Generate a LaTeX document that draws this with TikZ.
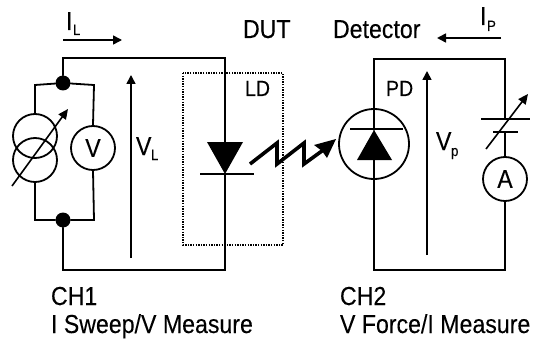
\documentclass[tikz,border=0pt]{standalone}
\usepackage{fontspec}
\setmainfont[FakeStretch=0.89,FakeBold=0.15]{Liberation Sans}
\usetikzlibrary{arrows.meta}
\newcommand{\bigtxt}{\fontsize{26}{26}\selectfont}
\newcommand{\midtxt}{\fontsize{22}{22}\selectfont}
\newcommand{\subtxt}{\fontsize{15}{15}\selectfont}
\tikzset{
  x=1pt,y=-1pt,
  wire/.style={line width=1.8pt,line cap=round,line join=miter},
  arrowline/.style={line width=1.6pt,-{Triangle[length=9pt,width=9pt]}},
  meter/.style={draw,circle,line width=1.8pt,minimum size=44pt,inner sep=0pt,fill=none},
  source/.style={draw,circle,line width=1.8pt,minimum size=44pt,inner sep=0pt},
  dotnode/.style={circle,fill=black,minimum size=15pt,inner sep=0pt},
  lbl/.style={anchor=base west,inner sep=0pt,outer sep=0pt},
  ldbox/.style={line width=1.5pt,dash pattern=on 1.4pt off 1.2pt},
  plate/.style={line width=1.8pt}
}
\begin{document}
\begin{tikzpicture}
\useasboundingbox (0,0) rectangle (534,339);
% nodes
\node[dotnode] (jt) at (63,83) {};
\node[dotnode] (jb) at (63,220) {};
\node[source] (s1) at (35,136) {};
\node[source] (s2) at (35,160) {};
\node[meter] (vm) at (93,148) {\bigtxt V};
\node[meter] (am) at (505,179) {\bigtxt A};
\node[draw,circle,line width=1.8pt,minimum size=70pt,inner sep=0pt] (pd) at (374,144) {};
% corner coordinates
\coordinate (tl) at (63,58); \coordinate (tr) at (225,58);
\coordinate (bl) at (63,270); \coordinate (br) at (225,270);
\coordinate (ptl) at (374,59); \coordinate (ptr) at (505,59);
\coordinate (pbl) at (374,270); \coordinate (pbr) at (505,270);
\coordinate (lla) at (225,143); \coordinate (llk) at (225,174);
\coordinate (bat1) at (505,119); \coordinate (bat2) at (505,132);
\coordinate (pda) at (374,130); \coordinate (pdk) at (374,160);
% LD box
\draw[ldbox] (183,73) rectangle (283,245);
% left loop
\draw[wire] (jt) -- (tl) -- (tr) -- (lla);
\draw[wire] (llk) -- (br) -- (bl) -- (jb);
\draw[wire] (s1.north) -- (35,85) -- (jt) -- (94,85) -- (vm.north);
\draw[wire] (s2.south) -- (35,220) -- (jb) -- (94,220) -- (vm.south);
% right loop
\draw[wire] (pda) -- (ptl) -- (ptr) -- (bat1);
\draw[wire] (pdk) -- (pbl) -- (pbr) -- (am.south);
\draw[wire] (bat2) -- (am.north);
% variable arrows
\draw[line width=1.6pt,-{Triangle[length=10pt,width=9pt]}] (12,186) -- (68,109);
\draw[line width=1.6pt,-{Triangle[length=10pt,width=9pt]}] (486,149) -- (528,94);
% battery plates
\draw[plate] (481,119) -- (530,119);
\draw[plate] (493,132) -- (518,132);
% laser diode
\fill (207,142) -- (243,142) -- (225,174) -- cycle;
\draw[plate] (200,174) -- (254,174);
% photodiode
\draw[plate] (350,129) -- (403,129);
\fill (374,130) -- (392,160) -- (357,160) -- cycle;
% light zigzag
\draw[line width=3.6pt,line join=miter] (250,164) -- (277,143) -- (277,164) -- (304,143) -- (304,164) -- (326,148);
\fill (336,139) -- (314,145) -- (322,151) -- (327,158) -- cycle;
% measure arrows
\draw[arrowline] (131,258) -- (131,75);
\draw[arrowline] (427,255) -- (427,71);
\draw[arrowline] (63,40) -- (122,40);
\draw[arrowline] (501,38) -- (437,38);
% labels
\node[lbl] (il) at (66,30) {\bigtxt I};
\node[lbl] (ils) at (73,35) {\subtxt L};
\node[lbl] (ip) at (480,25) {\bigtxt I};
\node[lbl] (ips) at (487,31) {\subtxt P};
\node[lbl] (vl) at (136,155) {\bigtxt V};
\node[lbl] (vls) at (151,160) {\subtxt L};
\node[lbl] (vp) at (436,150) {\bigtxt V};
\node[lbl] (vps) at (451,156) {\subtxt p};
\node[lbl] (dut) at (243,38) {\bigtxt DUT};
\node[lbl] (det) at (333,38) {\bigtxt Detector};
\node[lbl] (ld) at (245,96) {\midtxt LD};
\node[lbl] (pdl) at (386,96) {\midtxt PD};
\node[lbl] (ch1) at (51,305) {\bigtxt CH1};
\node[lbl] (m1) at (51,333) {\bigtxt I Sweep/V Measure};
\node[lbl] (ch2) at (340,305) {\bigtxt CH2};
\node[lbl] (m2) at (340,333) {\bigtxt V Force/I Measure};
\end{tikzpicture}
\end{document}
